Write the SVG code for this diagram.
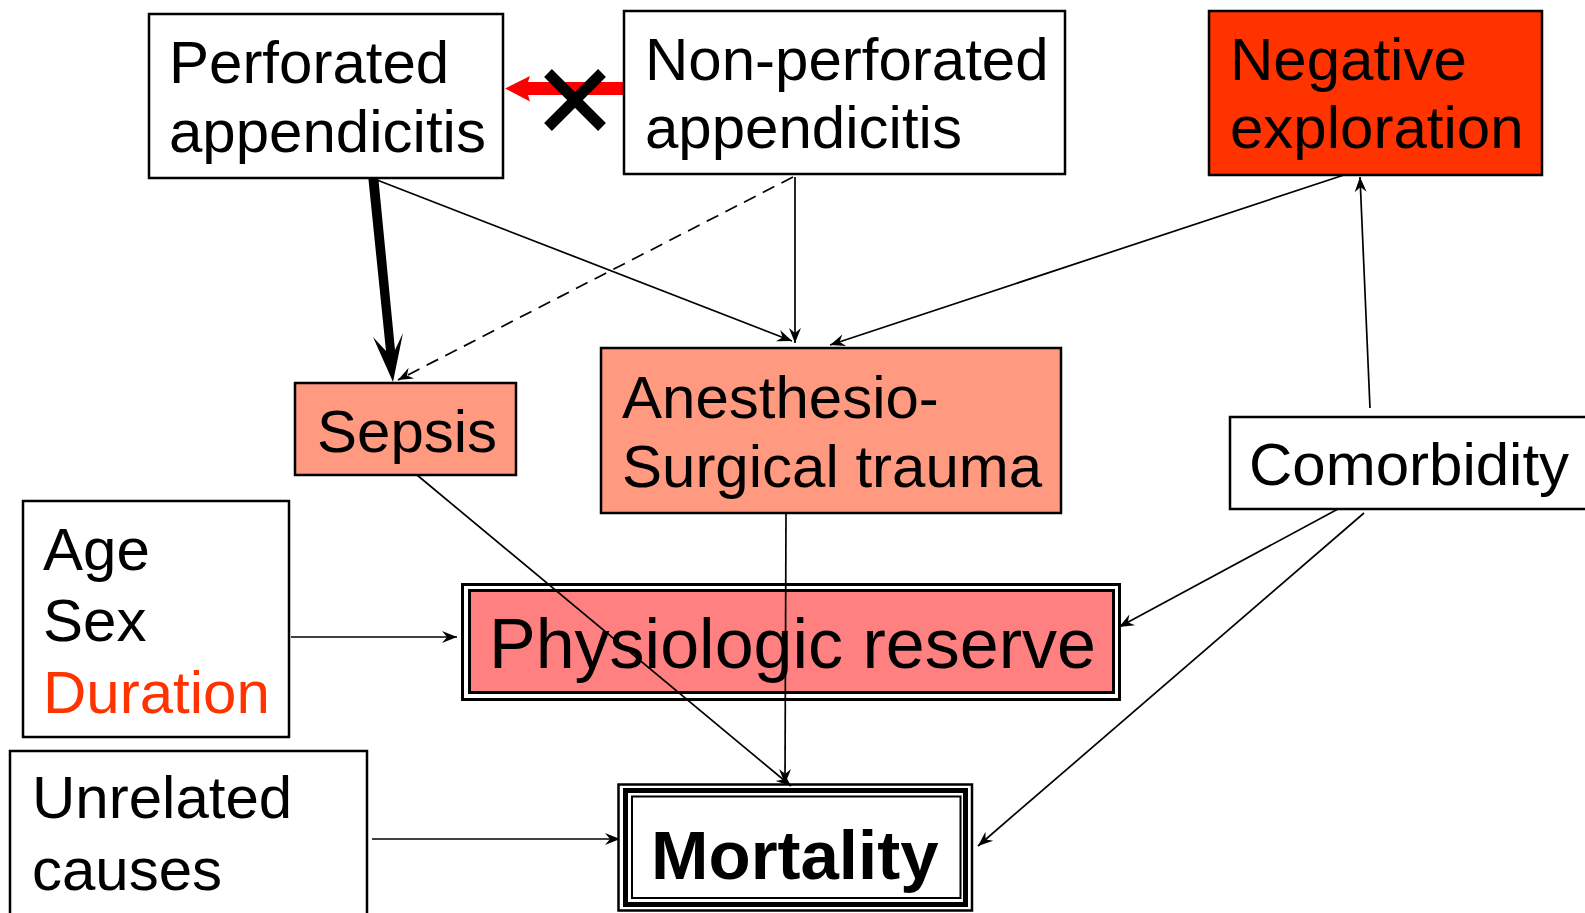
<svg xmlns="http://www.w3.org/2000/svg" width="1585" height="913" viewBox="0 0 1585 913">
<style>
.box{stroke:#000;stroke-width:2.5}
.t{font-family:"Liberation Sans",Arial,sans-serif;font-size:60px;fill:#000}
.red{fill:#ff3300}
.c{fill:none;stroke:#000;stroke-width:1.7}
</style>
<defs>
<marker id="ah" viewBox="-16 -7 17 14" refX="0" refY="0" markerWidth="17" markerHeight="14" markerUnits="userSpaceOnUse" orient="auto">
<path d="M0,0 L-15,-6 L-10,0 L-15,6 Z" fill="#000"/>
</marker>
</defs>
<rect width="1585" height="913" fill="#fff"/>

<g id="connectors">
<path d="M528,82 L625,82 L625,95 L528,95 L530,101.5 L505,88.5 L530,76 Z" fill="#f00"/>
<path d="M548,73 L602,127 M602,73 L548,127" stroke="#000" stroke-width="11"/>
<path d="M368,175 L378,175 L395,350 L403,333 L393,382 L373,337 L386,351 Z" fill="#000"/>
<line class="c" x1="377" y1="180" x2="792" y2="341" marker-end="url(#ah)"/>
<line class="c" x1="793" y1="177" x2="398" y2="380" stroke-dasharray="13,8" marker-end="url(#ah)"/>
<line class="c" x1="795" y1="177" x2="795" y2="343" marker-end="url(#ah)"/>
<line class="c" x1="1344" y1="175" x2="830" y2="345" marker-end="url(#ah)"/>
<line class="c" x1="1370" y1="408" x2="1360" y2="177" marker-end="url(#ah)"/>
<line class="c" x1="1338" y1="509" x2="1119" y2="627" marker-end="url(#ah)"/>
<line class="c" x1="1364" y1="513" x2="978" y2="846" marker-end="url(#ah)"/>
<line class="c" x1="291" y1="637" x2="457" y2="637" marker-end="url(#ah)"/>
<line class="c" x1="372" y1="839" x2="620" y2="839" marker-end="url(#ah)"/>
</g>

<g id="perforated">
<rect class="box" x="149" y="14" width="354" height="164" fill="#fff"/>
<text class="t" x="169" y="83">Perforated</text>
<text class="t" x="169" y="152">appendicitis</text>
</g>
<g id="nonperforated">
<rect class="box" x="624" y="11" width="441" height="163" fill="#fff"/>
<text class="t" x="645" y="80">Non-perforated</text>
<text class="t" x="645" y="148">appendicitis</text>
</g>
<g id="negative">
<rect class="box" x="1209" y="11" width="333" height="164" fill="#ff3300"/>
<text class="t" x="1230" y="80">Negative</text>
<text class="t" x="1230" y="148">exploration</text>
</g>
<g id="sepsis">
<rect class="box" x="295" y="383" width="221" height="92" fill="#ff9980"/>
<text class="t" x="317" y="452">Sepsis</text>
</g>
<g id="anesthesio">
<rect class="box" x="601" y="348" width="460" height="165" fill="#ff9980"/>
<text class="t" x="622" y="418">Anesthesio-</text>
<text class="t" x="622" y="487">Surgical trauma</text>
</g>
<g id="comorbidity">
<rect class="box" x="1230" y="417" width="400" height="92" fill="#fff"/>
<text class="t" x="1249" y="485">Comorbidity</text>
</g>
<g id="agesex">
<rect class="box" x="23" y="501" width="266" height="236" fill="#fff"/>
<text class="t" x="43" y="570">Age</text>
<text class="t" x="43" y="641">Sex</text>
<text class="t red" x="43" y="713">Duration</text>
</g>
<g id="physiologic">
<rect x="462.5" y="584.5" width="657" height="115" fill="#fff" stroke="#000" stroke-width="3"/>
<rect x="469.5" y="590.5" width="644" height="102" fill="#ff8080" stroke="#000" stroke-width="3"/>
<text class="t" x="489" y="668" style="font-size:70px">Physiologic reserve</text>
</g>
<g id="unrelated">
<rect class="box" x="10" y="751" width="357" height="200" fill="#fff"/>
<text class="t" x="32" y="818">Unrelated</text>
<text class="t" x="32" y="890">causes</text>
</g>
<g id="mortality">
<rect x="618.5" y="784.5" width="353.5" height="126" fill="#fff" stroke="#000" stroke-width="2.5"/>
<rect x="625.5" y="790.5" width="340" height="114" fill="#fff" stroke="#000" stroke-width="5"/>
<rect x="632" y="796.5" width="328.5" height="101.5" fill="#fff" stroke="#000" stroke-width="2"/>
<text class="t" x="651" y="879" style="font-size:69px;font-weight:bold">Mortality</text>
</g>

<g id="connectors-over">
<line class="c" x1="417" y1="475" x2="791" y2="786" marker-end="url(#ah)"/>
<line class="c" x1="786" y1="513" x2="785" y2="784" marker-end="url(#ah)"/>
</g>
</svg>
